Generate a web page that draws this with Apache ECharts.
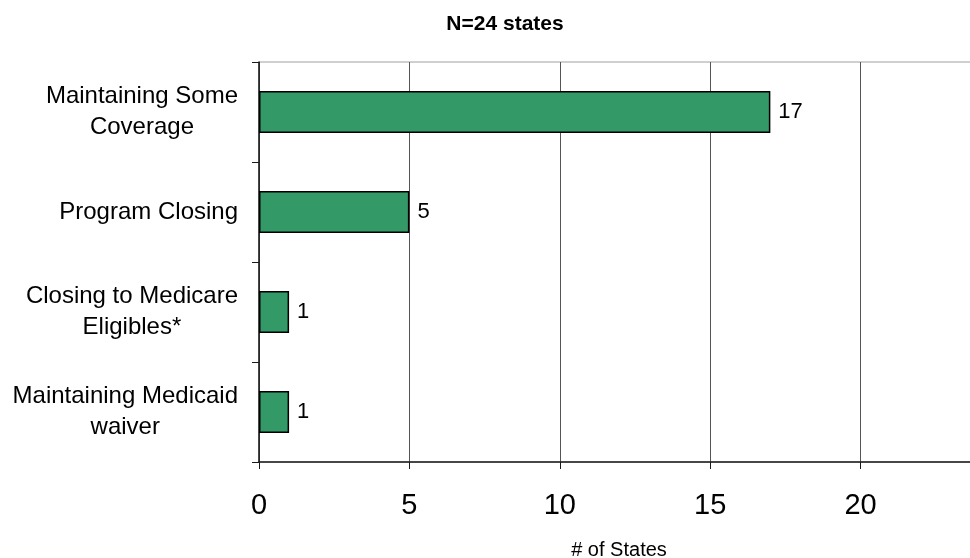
<!DOCTYPE html>
<html>
<head>
<meta charset="utf-8">
<script src="https://cdn.jsdelivr.net/npm/echarts@6/dist/echarts.min.js"></script>
<style>
  html, body { margin: 0; padding: 0; background: #ffffff; }
  #chart { width: 970px; height: 558px; }
</style>
</head>
<body>
<div id="chart"></div>
<script>
// Status of state programs, number of states in each group
const categories = [
  'Maintaining Some\nCoverage',
  'Program Closing',
  'Closing to Medicare\nEligibles*',
  'Maintaining Medicaid\nwaiver'
];
const stateCounts = [17, 5, 1, 1];
const axisTicks = { min: 0, max: 25, interval: 5 };
const titleText = 'N=24 states';
const axisTitle = '# of States';

const FONT = '"Liberation Sans", Arial, sans-serif';

const chart = echarts.init(document.getElementById('chart'), null, { renderer: 'canvas' });

chart.setOption({
  animation: false,
  backgroundColor: '#ffffff',
  title: [
    {
      text: titleText,
      left: 500,
      top: 9,
      textAlign: 'center',
      textStyle: { fontFamily: FONT, fontSize: 21, fontWeight: 'bold', color: '#000' }
    },
    {
      text: axisTitle,
      left: 614,
      top: 535,
      textAlign: 'center',
      textStyle: { fontFamily: FONT, fontSize: 20, fontWeight: 'normal', color: '#000' }
    }
  ],
  grid: {
    left: 259,
    top: 62,
    width: 752,
    height: 400,
    show: true,
    borderColor: '#a0a0a0',
    borderWidth: 1,
    backgroundColor: 'transparent',
    containLabel: false,
    outerBoundsMode: 'none'
  },
  xAxis: {
    type: 'value',
    min: axisTicks.min,
    max: axisTicks.max,
    interval: axisTicks.interval,
    axisLine: { show: true, lineStyle: { color: '#1a1a1a', width: 1.5 } },
    axisTick: { show: true, length: 7, inside: false, lineStyle: { color: '#1a1a1a', width: 1 } },
    splitLine: { show: true, lineStyle: { color: '#555555', width: 1 } },
    axisLabel: {
      margin: 29,
      fontFamily: FONT,
      fontSize: 29,
      color: '#000'
    }
  },
  yAxis: {
    type: 'category',
    data: categories,
    inverse: true,
    axisLine: { show: true, onZero: false, lineStyle: { color: '#1a1a1a', width: 1.5 } },
    axisTick: { show: true, length: 7, inside: false, lineStyle: { color: '#1a1a1a', width: 1 } },
    splitLine: { show: false },
    axisLabel: {
      margin: 21,
      align: 'right',
      fontFamily: FONT,
      fontSize: 24,
      lineHeight: 31,
      color: '#000',
      formatter: function (v) {
        return v.split('\n').map(function (line) { return '{c|' + line + '}'; }).join('\n');
      },
      rich: {
        c: { align: 'center', fontFamily: FONT, fontSize: 24, lineHeight: 31, color: '#000' }
      }
    }
  },
  series: [
    {
      type: 'bar',
      data: stateCounts,
      barWidth: 42,
      itemStyle: { color: '#339966', borderColor: '#000000', borderWidth: 1.5 },
      label: {
        show: true,
        position: 'right',
        distance: 8,
        fontFamily: FONT,
        fontSize: 22,
        color: '#000'
      }
    }
  ]
});
</script>
</body>
</html>
